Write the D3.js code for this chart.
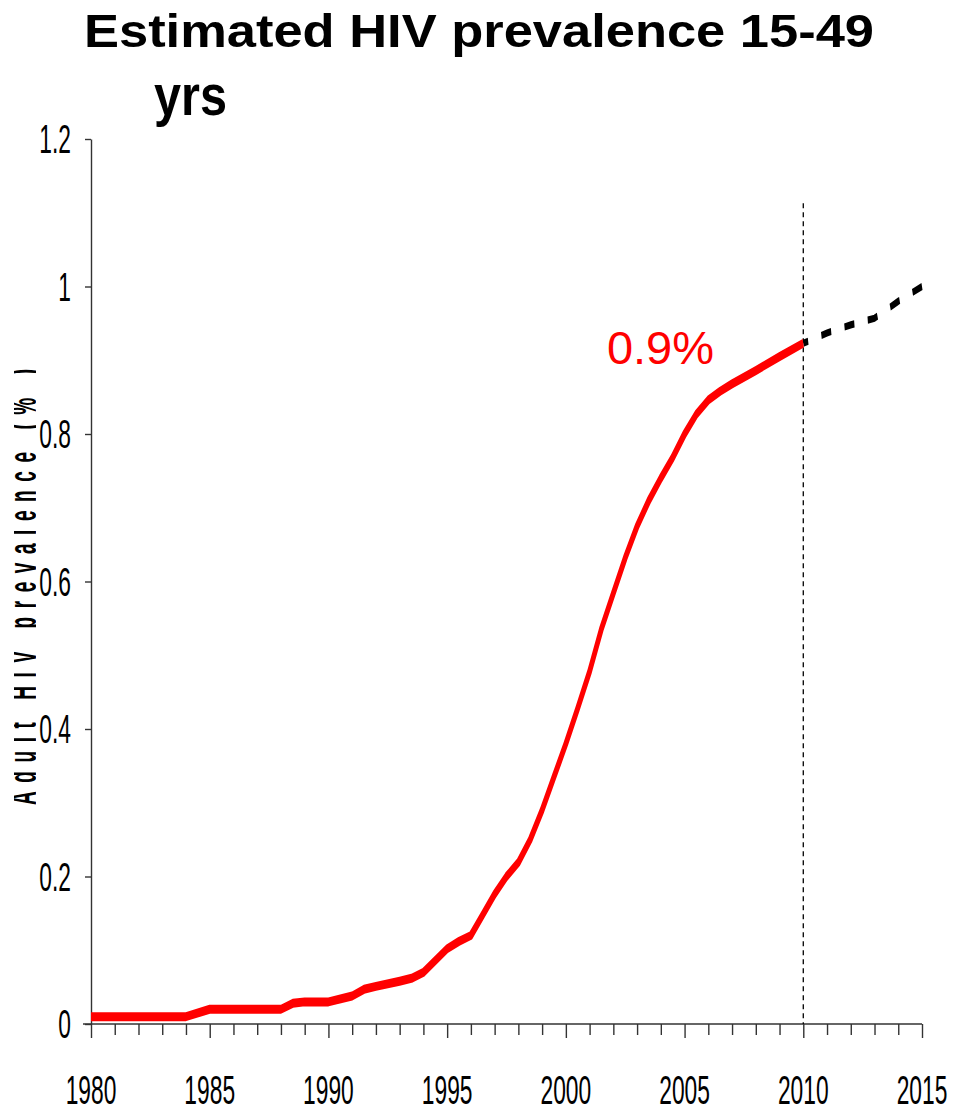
<!DOCTYPE html>
<html>
<head>
<meta charset="utf-8">
<script src="https://d3js.org/d3.v7.min.js"></script>
<style>
  body { margin: 0; background: #fff; }
  svg { display: block; }
</style>
</head>
<body>
<div id="vis-container"></div>
<script>
// Estimated adult HIV prevalence, 1980-2010 estimate and 2010-2015 projection
const estYears = [1980, 1984, 1985, 1988, 1988.5, 1989, 1990, 1991, 1991.5, 1992, 1993, 1993.5, 1994,
  1995, 1995.5, 1996, 1996.5, 1997, 1997.5, 1998, 1998.5, 1999, 1999.5, 2000, 2000.5, 2001, 2001.5,
  2002, 2002.5, 2003, 2003.5, 2004, 2004.5, 2005, 2005.5, 2006, 2006.5, 2007, 2008, 2009, 2010];
const estValues = [0.01, 0.01, 0.02, 0.02, 0.028, 0.03, 0.03, 0.038, 0.047, 0.051, 0.058, 0.062, 0.07,
  0.102, 0.112, 0.12, 0.148, 0.176, 0.2, 0.219, 0.25, 0.29, 0.335, 0.38, 0.428, 0.478, 0.536,
  0.584, 0.632, 0.675, 0.71, 0.74, 0.768, 0.8, 0.827, 0.846, 0.858, 0.868, 0.886, 0.905, 0.923];
const projYears = [2010, 2011, 2012, 2013, 2014, 2015];
const projValues = [0.923, 0.937, 0.948, 0.957, 0.98, 1.0];
const yTicks = [0, 0.2, 0.4, 0.6, 0.8, 1, 1.2];
const xLabelYears = [1980, 1985, 1990, 1995, 2000, 2005, 2010, 2015];
const annotation = "0.9%";

const width = 954;
const height = 1110;
const font = "'Liberation Sans', Arial, sans-serif";
const stretch = 2; // the source picture is stretched vertically

const svg = d3.select("#vis-container")
  .append("svg")
  .attr("width", width)
  .attr("height", height);

const xScale = d3.scaleLinear().domain([1980, 2015]).range([91, 922]);
const yScale = d3.scaleLinear().domain([0, 1.2]).range([1024, 139]);
// same scale in the compressed space of the stretched group
const yInner = d3.scaleLinear().domain([0, 1.2]).range([1024 / stretch, 139 / stretch]);

// Title
svg.append("text")
  .attr("x", 84).attr("y", 47)
  .attr("font-family", font).attr("font-weight", "bold")
  .attr("font-size", 47)
  .attr("textLength", 790).attr("lengthAdjust", "spacingAndGlyphs")
  .text("Estimated HIV prevalence 15-49");
svg.append("text")
  .attr("x", 154).attr("y", 115)
  .attr("font-family", font).attr("font-weight", "bold")
  .attr("font-size", 58)
  .attr("textLength", 73).attr("lengthAdjust", "spacingAndGlyphs")
  .text("yrs");

// Y axis
const yAxis = d3.axisLeft(yScale)
  .tickValues(yTicks)
  .tickSize(6)
  .tickSizeOuter(0)
  .tickFormat("");
const gy = svg.append("g")
  .attr("transform", `translate(${xScale(1980)},0)`)
  .call(yAxis);
gy.selectAll("path, line").attr("stroke", "#333").attr("stroke-width", 1.4);

svg.append("g").selectAll("text")
  .data(yTicks)
  .enter()
  .append("text")
  .attr("transform", d => `translate(${xScale(1980) - 20},${yScale(d) + 14}) scale(0.57,1)`)
  .attr("text-anchor", "end")
  .attr("font-family", font)
  .attr("font-size", 40)
  .text(d => String(+d.toFixed(1)));

// X axis
const xAxis = d3.axisBottom(xScale)
  .tickValues(d3.range(1980, 2016))
  .tickSizeOuter(0)
  .tickFormat("");
const gx = svg.append("g")
  .attr("transform", `translate(0,${yScale(0)})`)
  .call(xAxis);
gx.select(".domain").remove();
gx.selectAll(".tick line")
  .attr("y2", d => d % 5 === 0 ? 14 : 11)
  .attr("stroke", "#333").attr("stroke-width", 1.4);
gx.append("line")
  .attr("x1", xScale(1980) - 8).attr("x2", xScale(2015))
  .attr("stroke", "#333").attr("stroke-width", 1.4);

svg.append("g").selectAll("text")
  .data(xLabelYears)
  .enter()
  .append("text")
  .attr("transform", d => `translate(${xScale(d)},${yScale(0) + 80}) scale(0.57,1)`)
  .attr("text-anchor", "middle")
  .attr("font-family", font)
  .attr("font-size", 40)
  .text(d => d);

// Y axis title (clipped in the source)
svg.append("clipPath").attr("id", "ytitle-clip")
  .append("rect").attr("x", 14).attr("y", 300).attr("width", 22).attr("height", 560);
svg.append("g")
  .attr("clip-path", "url(#ytitle-clip)")
  .append("text")
  .attr("transform", "translate(36,805) rotate(-90) scale(0.5,1)")
  .attr("font-family", font).attr("font-weight", "bold")
  .attr("font-size", 38)
  .attr("textLength", 872).attr("lengthAdjust", "spacing")
  .text("Adult HIV prevalence (% )");

// 2010 marker
svg.append("line")
  .attr("x1", xScale(2010)).attr("x2", xScale(2010))
  .attr("y1", yScale(1.113)).attr("y2", yScale(0))
  .attr("stroke", "#000").attr("stroke-width", 1.3)
  .attr("stroke-dasharray", "5,4");

// Lines, drawn in a vertically stretched group
const plot = svg.append("g").attr("transform", `scale(1,${stretch})`);

const line = d3.line()
  .x(d => xScale(d[0]))
  .y(d => yInner(d[1]));

plot.append("path")
  .datum(d3.zip(projYears, projValues))
  .attr("d", line)
  .attr("fill", "none")
  .attr("stroke", "#000")
  .attr("stroke-width", 3.6)
  .attr("stroke-dasharray", "10,13.5")
  .attr("stroke-dashoffset", 5);

plot.append("path")
  .datum(d3.zip(estYears, estValues))
  .attr("d", line)
  .attr("fill", "none")
  .attr("stroke", "#ff0000")
  .attr("stroke-width", 4.5)
  .attr("stroke-linejoin", "round");

// Annotation
svg.append("text")
  .attr("x", xScale(2001.73)).attr("y", yScale(0.895))
  .attr("font-family", font)
  .attr("font-size", 47)
  .attr("fill", "#ff0000")
  .text(annotation);
</script>
</body>
</html>
